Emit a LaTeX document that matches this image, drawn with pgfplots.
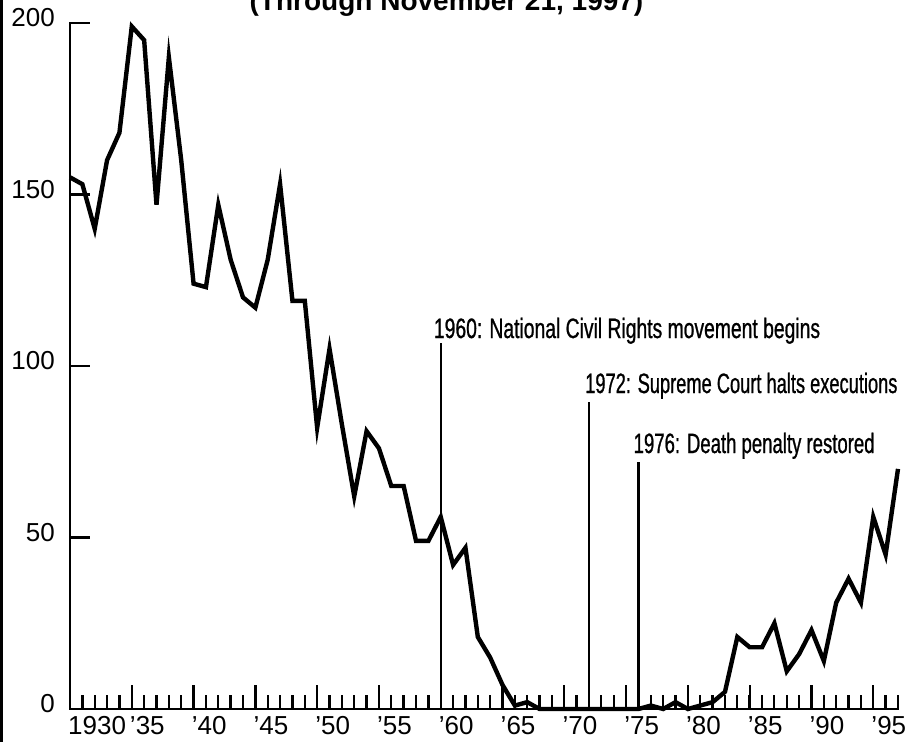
\documentclass[border=0pt]{standalone}
\usepackage{fontspec}
\usepackage{graphicx}
\setmainfont{Liberation Sans}
\newfontfamily\annfont[FakeStretch=0.69, FakeBold=0.8]{Liberation Sans}
\usepackage{pgfplots}
\pgfplotsset{compat=1.18}

\begin{document}
\begin{tikzpicture}[x=1pt,y=1pt]
\useasboundingbox (-70,-33) rectangle (836,709);
\clip (-70,-33) rectangle (836,709);
\draw[line width=2.7pt] (-68.3,-40) -- (-68.3,715);
\node[font=\fontsize{28}{30}\selectfont\bfseries, anchor=base, inner sep=0pt] at (376.5,698) {(Through November 21, 1997)};

\begin{axis}[
  at={(0,0)}, anchor=south west, scale only axis,
  width=828pt, height=686pt,
  xmin=1930, xmax=1997, ymin=0, ymax=200,
  axis x line=bottom, axis y line=none,
  axis line style={-, line width=2.7pt, line cap=rect},
  xtick={1930,1935,...,1995},
  xticklabels={1930,’35,’40,’45,’50,’55,’60,’65,’70,’75,’80,’85,’90,’95},
  minor xtick={1931,...,1997},
  ytick=\empty,
  tick align=inside,
  major tick length=24pt, minor tick length=14pt,
  tick style={line width=2.3pt, black},
  xticklabel style={font=\fontsize{26}{28}\selectfont, anchor=base west, inner sep=0pt, xshift=-2pt, yshift=-26pt},
  clip=false,
]
\addplot[line width=4.4pt, black, line join=miter] coordinates {
(1930,155) (1931,153) (1932,140) (1933,160) (1934,168) (1935,199) (1936,195) (1937,147) (1938,190) (1939,160)
(1940,124) (1941,123) (1942,147) (1943,131) (1944,120) (1945,117) (1946,131) (1947,153) (1948,119) (1949,119)
(1950,82) (1951,105) (1952,83) (1953,62) (1954,81) (1955,76) (1956,65) (1957,65) (1958,49) (1959,49)
(1960,56) (1961,42) (1962,47) (1963,21) (1964,15) (1965,7) (1966,1) (1967,2) (1968,0) (1969,0)
(1970,0) (1971,0) (1972,0) (1973,0) (1974,0) (1975,0) (1976,0) (1977,1) (1978,0) (1979,2)
(1980,0) (1981,1) (1982,2) (1983,5) (1984,21) (1985,18) (1986,18) (1987,25) (1988,11) (1989,16)
(1990,23) (1991,14) (1992,31) (1993,38) (1994,31) (1995,56) (1996,45) (1997,70)
};
\addplot[line width=2.3pt, black] coordinates {(1960,0) (1960,106.7)};
\addplot[line width=2.3pt, black] coordinates {(1972,0) (1972,89.5)};
\addplot[line width=2.3pt, black] coordinates {(1976,0) (1976,72)};
\node[anchor=base west, inner sep=0pt, font=\annfont\fontsize{28}{30}\selectfont, xshift=-7pt, yshift=5pt] at (axis cs:1960,106.7) {1960: National Civil Rights movement begins};
\node[anchor=base west, inner sep=0pt, font=\annfont\fontsize{28}{30}\selectfont, xshift=-4pt, yshift=9pt] at (axis cs:1972,89.5) {\scalebox{0.945}[1]{1972: Supreme Court halts executions}};
\node[anchor=base west, inner sep=0pt, font=\annfont\fontsize{28}{30}\selectfont, xshift=-5pt, yshift=9pt] at (axis cs:1976,72) {\scalebox{0.96}[1]{1976: Death penalty restored}};
\end{axis}

\begin{axis}[
  at={(0,0)}, anchor=south west, scale only axis,
  width=828pt, height=686pt,
  xmin=1930, xmax=1997, ymin=0, ymax=200,
  axis x line=none, axis y line=left,
  axis line style={-, line width=2.7pt, line cap=rect},
  xtick=\empty,
  ytick={0,50,100,150,200},
  yticklabels={0,50,100,150,200},
  tick align=inside,
  major tick length=20pt,
  tick style={line width=2.3pt, black},
  yticklabel style={font=\fontsize{26}{28}\selectfont, anchor=base east, inner sep=0pt, xshift=-15pt, yshift=-4pt},
]
\end{axis}
\end{tikzpicture}
\end{document}
